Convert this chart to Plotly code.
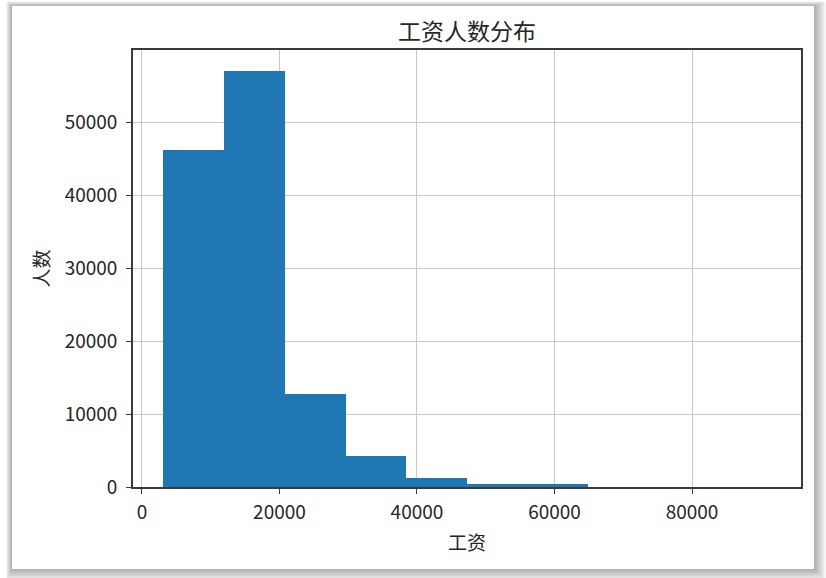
import plotly.graph_objects as go

# Data: salary histogram (10 bins)
bin_edges = [3116, 11948, 20780, 29611, 38443, 47275, 56107, 64939, 73770, 82602, 91434]
counts = [46250, 57000, 12750, 4200, 1230, 400, 380, 0, 0, 0]
x_ticks = [0, 20000, 40000, 60000, 80000]
y_ticks = [0, 10000, 20000, 30000, 40000, 50000]
title_text = "工资人数分布"
x_label = "工资"
y_label = "人数"

centers = [(a + b) / 2 for a, b in zip(bin_edges[:-1], bin_edges[1:])]
widths = [b - a for a, b in zip(bin_edges[:-1], bin_edges[1:])]

W, H = 826, 578
L, R, T, B = 133, 801, 50, 487
pw, ph = R - L, B - T

def px_x(p):
    return (p - L) / pw

def px_y(p):
    return (B - p) / ph

font_family = "Noto Sans CJK SC, Noto Sans, sans-serif"

fig = go.Figure()
fig.add_trace(go.Bar(
    x=centers, y=counts, width=widths,
    marker=dict(color="#1f77b4", line=dict(width=0)),
    hoverinfo="x+y",
))

shapes = []
# soft shadow around the card
card_l, card_t, card_r, card_b = 12, 6, 814, 569
for k in range(1, 13):
    shapes.append(dict(
        type="rect", xref="paper", yref="paper", layer="below",
        x0=px_x(card_l - k * 0.5), x1=px_x(card_r + k),
        y0=px_y(card_b + k), y1=px_y(card_t - k * 0.4),
        fillcolor="rgba(0,0,0,0.028)", line=dict(width=0),
    ))
shapes.append(dict(
    type="rect", xref="paper", yref="paper", layer="below",
    x0=px_x(card_l), x1=px_x(card_r), y0=px_y(card_b), y1=px_y(card_t),
    fillcolor="white", line=dict(width=0),
))

axis_common = dict(
    showline=True, mirror=True, linecolor="#3a3a3a", linewidth=1.6,
    ticks="outside", ticklen=5, tickwidth=1.4, tickcolor="#3a3a3a",
    showgrid=True, gridcolor="#c8c8c8", gridwidth=1.4,
    zeroline=False,
    tickfont=dict(family=font_family, size=19, color="#262626"),
)

fig.update_layout(
    width=W, height=H,
    margin=dict(l=L, r=W - R, t=T, b=H - B),
    paper_bgcolor="white", plot_bgcolor="white",
    showlegend=False,
    bargap=0,
    shapes=shapes,
    title=dict(text=title_text, x=(L + R) / 2 / W, xanchor="center",
               y=1 - 32 / H, yanchor="middle",
               font=dict(family=font_family, size=23, color="#262626")),
    xaxis=dict(range=[-1300, 95850], tickvals=x_ticks,
               ticktext=[str(v) for v in x_ticks],
               ticklabelstandoff=2,
               title=dict(text=x_label, standoff=14,
                          font=dict(family=font_family, size=19, color="#262626")),
               **axis_common),
    yaxis=dict(range=[0, 59890], tickvals=y_ticks,
               ticktext=[str(v) for v in y_ticks],
               ticklabelstandoff=5,
               title=dict(text=y_label, standoff=10,
                          font=dict(family=font_family, size=19, color="#262626")),
               **axis_common),
)

fig.write_html(
    "out.html",
    config={"displayModeBar": False},
    post_script="document.body.style.margin='0';document.body.style.overflow='hidden';",
)
